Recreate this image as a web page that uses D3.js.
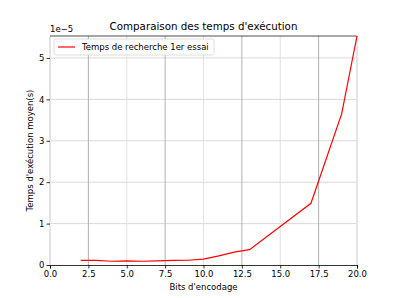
<!DOCTYPE html>
<html>
<head>
<meta charset="utf-8">
<script src="https://cdn.jsdelivr.net/npm/d3@7"></script>
<style>
body { margin:0; background:#fff; }
text { font-family: "DejaVu Sans", sans-serif; }
</style>
</head>
<body>
<div id="chart"></div>
<script>
// data (y in units of 1e-5 s)
const bits = [2, 3, 4, 5, 6, 7, 8, 9, 10, 11, 12, 13, 17, 19, 20];
const temps = [0.11, 0.11, 0.09, 0.10, 0.09, 0.10, 0.11, 0.115, 0.14, 0.22, 0.31, 0.37, 1.49, 3.65, 5.53];
const xTicks = [0, 2.5, 5, 7.5, 10, 12.5, 15, 17.5, 20];
const yTicks = [0, 1, 2, 3, 4, 5];
const seriesName = "Temps de recherche 1er essai";

const width = 398, height = 298;
const m = {left:50, right:41, top:36, bottom:33};

const svg = d3.select("#chart").append("svg")
    .attr("width", width)
    .attr("height", height);

const x = d3.scaleLinear().domain([0, 20]).range([m.left, width - m.right]);
const y = d3.scaleLinear().domain([0, 5.53]).range([height - m.bottom, m.top]);

// grid
svg.append("g").selectAll("line")
    .data(yTicks.slice(1))
    .enter().append("line")
    .attr("x1", m.left).attr("x2", width - m.right)
    .attr("y1", d => y(d)).attr("y2", d => y(d))
    .attr("stroke", "#cfcfcf").attr("stroke-width", 0.8);

svg.append("g").selectAll("line")
    .data(xTicks)
    .enter().append("line")
    .attr("x1", d => x(d)).attr("x2", d => x(d))
    .attr("y1", m.top).attr("y2", height - m.bottom)
    .attr("stroke", d => (d % 5 === 0) ? "#dedede" : "#a8a8a8")
    .attr("stroke-width", d => (d === 0 || d === 20) ? 1.6 : 0.9);

// spines top / bottom
svg.append("line")
    .attr("x1", m.left).attr("x2", width - m.right)
    .attr("y1", m.top).attr("y2", m.top)
    .attr("stroke", "#222").attr("stroke-width", 0.8);

// line
const line = d3.line().x((d, i) => x(bits[i])).y(d => y(d));
svg.append("path")
    .datum(temps)
    .attr("d", line)
    .attr("fill", "none")
    .attr("stroke", "red")
    .attr("stroke-width", 1.2);

// axes
const xAxis = svg.append("g")
    .attr("transform", `translate(0,${height - m.bottom})`)
    .call(d3.axisBottom(x).tickValues(xTicks).tickFormat(d3.format(".1f")).tickSize(3.5).tickPadding(2));
xAxis.select(".domain").attr("stroke", "#000").attr("stroke-width", 0.8);

const yAxis = svg.append("g")
    .attr("transform", `translate(${m.left},0)`)
    .call(d3.axisLeft(y).tickValues(yTicks).tickFormat(d3.format("d")).tickSize(3.5).tickPadding(2));
yAxis.select(".domain").remove();

svg.selectAll(".tick text")
    .style("font-family", "DejaVu Sans, sans-serif")
    .style("font-size", "8.5px")
    .attr("fill", "#000");
svg.selectAll(".tick line").attr("stroke", "#000").attr("stroke-width", 0.8);

// offset text
svg.append("text")
    .attr("x", m.left)
    .attr("y", 32)
    .style("font-size", "8.5px")
    .text("1e\u22125");

// title
svg.append("text")
    .attr("x", (m.left + width - m.right) / 2)
    .attr("y", 30)
    .attr("text-anchor", "middle")
    .style("font-size", "10.3px")
    .text("Comparaison des temps d'exécution");

// axis labels
svg.append("text")
    .attr("x", (m.left + width - m.right) / 2)
    .attr("y", 290)
    .attr("text-anchor", "middle")
    .style("font-size", "8.5px")
    .text("Bits d'encodage");

svg.append("text")
    .attr("transform", "rotate(-90)")
    .attr("x", -(m.top + height - m.bottom) / 2)
    .attr("y", 33)
    .attr("text-anchor", "middle")
    .style("font-size", "8.5px")
    .text("Temps d'exécution moyen(s)");

// legend
const lg = svg.append("g").attr("transform", `translate(${m.left + 4},${m.top + 3})`);
lg.append("rect")
    .attr("width", 160).attr("height", 16).attr("rx", 2)
    .attr("fill", "#fff").attr("fill-opacity", 0.8)
    .attr("stroke", "#d6d6d6").attr("stroke-width", 0.8);
lg.append("line")
    .attr("x1", 4).attr("x2", 21).attr("y1", 8).attr("y2", 8)
    .attr("stroke", "red").attr("stroke-width", 1.2);
lg.append("text")
    .attr("x", 28).attr("y", 11)
    .style("font-size", "8.5px")
    .text(seriesName);
</script>
</body>
</html>
